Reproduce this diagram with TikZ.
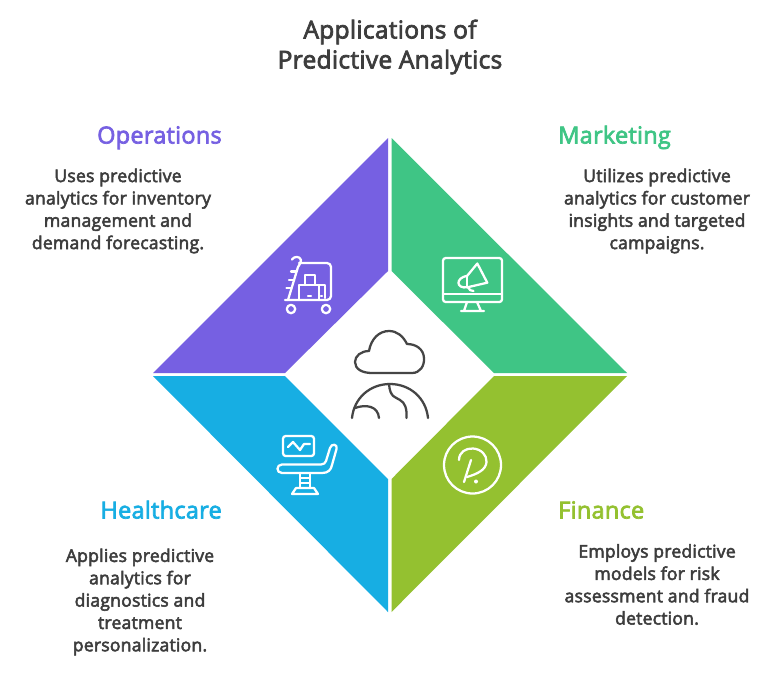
\documentclass[tikz,border=0pt]{standalone}
\usepackage{fontspec}
\setmainfont{Open Sans}[FakeBold=3,LetterSpace=1.2]
\definecolor{cpurple}{HTML}{7660E2}
\definecolor{cgreen}{HTML}{3FC585}
\definecolor{cblue}{HTML}{17AEE3}
\definecolor{clime}{HTML}{94C130}
\definecolor{ctext}{HTML}{3D3D3D}
\definecolor{cicon}{HTML}{454545}
\tikzset{
  ttl/.style={font=\fontsize{18.4pt}{22.5pt}\selectfont,text=ctext,align=center,inner sep=0pt},
  head/.style={font=\fontsize{17.6pt}{21pt}\selectfont,inner sep=0pt,anchor=base},
  body/.style={font=\fontsize{13.2pt}{16.75pt}\selectfont,text=ctext,align=center,inner sep=0pt},
  wic/.style={draw=white,line width=1.7pt,line join=round,line cap=round},
  dic/.style={draw=cicon,line width=1.7pt,line join=round,line cap=round},
}
\begin{document}
\begin{tikzpicture}[x=0.75pt,y=-0.75pt]
\useasboundingbox (0,0) rectangle (780,675);
\fill[white] (0,0) rectangle (780,675);
\fill[cpurple] (388,138) -- (388,271) -- (285,373) -- (153,373) -- cycle;
\fill[cgreen] (391.5,138) -- (391.5,271) -- (494,373) -- (627,373) -- cycle;
\fill[cblue] (153,376) -- (285,376) -- (388,479) -- (388,612) -- cycle;
\fill[clime] (627,376) -- (494,376) -- (391.5,479) -- (391.5,612) -- cycle;
\node[ttl] (title) at (390,47) {Applications of\\Predictive Analytics};
\node[head,text=cpurple,anchor=base east] (h1) at (222,143.5) {Operations};
\node[head,text=cgreen,anchor=base west] (h2) at (558,143.5) {Marketing};
\node[head,text=cblue,anchor=base east] (h3) at (222,518.5) {Healthcare};
\node[head,text=clime,anchor=base west] (h4) at (558,518.5) {Finance};
\node[body] (b1) at (118,211) {Uses predictive\\analytics for inventory\\management and\\demand forecasting.};
\node[body] (b2) at (657,211) {Utilizes predictive\\analytics for customer\\insights and targeted\\campaigns.};
\node[body] (b3) at (140,602) {Applies predictive\\analytics for\\diagnostics and\\treatment\\personalization.};
\node[body] (b4) at (657,584.5) {Employs predictive\\models for risk\\assessment and fraud\\detection.};
% cloud
\draw[dic] (372,373) -- (412,373) .. controls (420,373) and (424.5,366) .. (424,358)
  .. controls (423.5,349) and (416,344) .. (407,344)
  .. controls (403,336) and (397,331) .. (389,331)
  .. controls (379,331) and (371,339) .. (369,351)
  .. controls (361,351) and (355,356) .. (355,362)
  .. controls (355,369) and (362,373) .. (372,373) -- cycle;
% globe
\draw[dic] (352,418) .. controls (354,398) and (370,384) .. (390,384) .. controls (410,384) and (426,398) .. (428,418);
\draw[dic] (355,408) .. controls (366,404) and (378,406) .. (379,418);
\draw[dic] (389,384) .. controls (390,398) and (396,397) .. (400,400) .. controls (405,403) and (407,408) .. (406.5,418);
% monitor
\draw[wic,rounded corners=2] (443,258) rectangle (502,302);
\draw[wic] (443,294) -- (502,294);
\draw[wic] (467,302) -- (464,311) (477,302) -- (481,311) (461,311) -- (484,311);
\draw[wic] (467.3,275.7) -- (477.3,263.5) -- (487.3,282.7) -- (467.3,287.3) .. controls (456,289) and (455,278) .. (467.3,275.7) -- cycle;
\draw[wic] (467.3,275.7) -- (467.3,287.3);
\draw[wic] (468,287.3) .. controls (469,290) and (471,291) .. (473.5,291);
% cart
\draw[wic] (292,259.5) .. controls (294,256) and (300,256) .. (301,260) .. controls (301,262) and (300,264) .. (298,267) -- (288,300);
\draw[wic,rounded corners=3] (299,263) -- (331,263) -- (331,300) -- (285,300);
\draw[wic] (291,271.5) -- (296,271.5) (289,280) -- (294,280) (286.5,288) -- (291,288);
\draw[wic] (299,300) -- (299,285) -- (319,285) -- (319,300);
\draw[wic] (305,285) -- (305,275) -- (315,275) -- (315,285);
\draw[wic] (319,285) -- (325,285) -- (325,298);
\draw[wic] (308,296) -- (311,296) (321,296) -- (322,296);
\draw[wic] (291,309) circle[radius=4.2] (326,309) circle[radius=4.2];
% chair
\draw[wic,rounded corners=2] (283,436) rectangle (314,456);
\draw[wic] (288,447) -- (293,442) -- (300,450) -- (304,444) -- (310,444);
\draw[wic] (282,464.5) -- (321,464.5) .. controls (324,464.5) and (325,463) .. (326,461) -- (330,448)
  .. controls (331.5,443) and (338,444) .. (336.5,449) -- (332,465) .. controls (331,470) and (328,473) .. (322,473) -- (282,473)
  .. controls (276,473) and (276,464.5) .. (282,464.5) -- cycle;
\draw[wic] (300,473) -- (300,488) (310,473) -- (310,488) (300,478) -- (310,478) (300,483) -- (310,483);
\draw[wic] (296,488) -- (314,488) -- (318,494) -- (292,494) -- cycle;
% p circle
\draw[wic] (472.5,465) circle[radius=28.5];
\draw[wic] (459,460) .. controls (459,452) and (466,448) .. (473,448.5) .. controls (481,449) and (487,455) .. (486.5,462) .. controls (486,470) and (477,474) .. (467,477);
\draw[wic] (471,460) -- (464,482);
\fill[white] (476,481.5) circle[radius=2];
\end{tikzpicture}
\end{document}
